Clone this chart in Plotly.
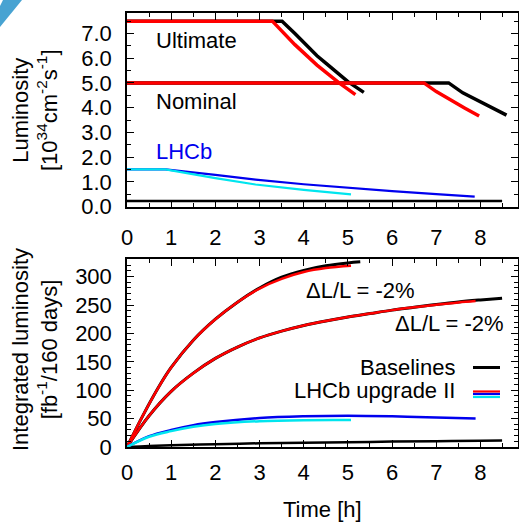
import plotly.graph_objects as go

# ---------------- Top panel: instantaneous luminosity [1e34 cm^-2 s^-1] vs time [h]
ult_base_t = [0, 3.51, 3.8, 4.0, 4.3, 4.5, 5.0, 5.36]
ult_base_l = [7.5, 7.5, 7.0, 6.62, 6.1, 5.8, 5.05, 4.62]
ult_up2_t = [0, 3.29, 3.8, 4.3, 4.8, 5.17]
ult_up2_l = [7.5, 7.5, 6.55, 5.72, 5.0, 4.53]
nom_base_t = [0, 7.28, 7.6, 7.92, 8.3, 8.59]
nom_base_l = [5.0, 5.0, 4.6, 4.3, 3.97, 3.70]
nom_up2_t = [0, 6.72, 7.0, 7.32, 7.65, 7.97]
nom_up2_l = [5.0, 5.0, 4.65, 4.3, 3.98, 3.66]
lhcb_base_t = [0, 8.49]
lhcb_base_l = [0.22, 0.22]
lhcb_blue_t = [0, 0.87, 2.0, 2.91, 4.0, 5.0, 6.0, 7.0, 7.87]
lhcb_blue_l = [1.5, 1.5, 1.28, 1.09, 0.9, 0.75, 0.62, 0.5, 0.4]
lhcb_cyan_t = [0, 0.87, 2.0, 2.91, 4.0, 5.07]
lhcb_cyan_l = [1.5, 1.5, 1.15, 0.89, 0.67, 0.49]

# ---------------- Bottom panel: integrated luminosity [fb^-1 / 160 days] vs fill length [h]
iu_base_t = [0, 0.35, 0.72, 1.0, 1.5, 2.0, 2.5, 3.0, 3.5, 4.0, 4.5, 5.0, 5.28]
iu_base_l = [0, 54, 106, 140, 188, 225, 255, 280, 299, 311, 319, 324, 326]
iu_up2_t = [0, 0.35, 0.72, 1.0, 1.5, 2.0, 2.5, 3.0, 3.5, 4.0, 4.5, 5.07]
iu_up2_l = [0, 54, 106, 140, 188, 225, 255, 279, 296, 308, 315, 319]
in_base_t = [0, 0.5, 1.0, 1.5, 2.0, 2.5, 3.0, 3.5, 4.0, 4.5, 5.0, 5.5, 6.0, 6.5, 7.0, 7.5, 8.0, 8.49]
in_base_l = [0, 55, 98, 130, 156, 176, 192, 204, 214, 222, 229, 235, 241, 246, 251, 255.5, 259, 262]
in_up2_t = [0, 0.5, 1.0, 1.5, 2.0, 2.5, 3.0, 3.5, 4.0, 4.5, 5.0, 5.5, 6.0, 6.5, 7.0, 7.5, 7.89]
in_up2_l = [0, 55, 98, 130, 156, 176, 192, 204, 214, 222, 229, 235, 241, 246, 250.5, 254.5, 257]
ib_base_t = [0, 0.5, 1, 2, 3, 4, 5, 6, 7, 8, 8.49]
ib_base_l = [0, 1.8, 3, 5, 6.5, 7.5, 8.5, 9.5, 10.3, 11, 11.5]
ib_blue_t = [0, 0.5, 1, 1.5, 2, 3, 4, 5, 6, 7, 7.89]
ib_blue_l = [0, 19, 30, 38.5, 44, 51, 54, 55, 54, 52, 50]
ib_cyan_t = [0, 0.5, 1, 1.5, 2, 3, 4, 5.07]
ib_cyan_l = [0, 18, 28, 35.5, 40.5, 45.5, 47.3, 47.5]

x_ticks = [0, 1, 2, 3, 4, 5, 6, 7, 8]
top_ticks = [0, 1, 2, 3, 4, 5, 6, 7]
bot_ticks = [0, 50, 100, 150, 200, 250, 300]

BLACK, RED, BLUE, CYAN = "#000000", "#ff0000", "#0000ee", "#00e5ee"
FONT = "Liberation Sans, Arial, Helvetica, sans-serif"

fig = go.Figure()

def add(t, l, color, width, ax, shape="linear"):
    fig.add_trace(go.Scatter(x=t, y=l, mode="lines", xaxis="x" if ax == 1 else "x2",
                             yaxis="y" if ax == 1 else "y2",
                             line=dict(color=color, width=width, shape=shape),
                             showlegend=False, hoverinfo="skip"))

# top
add(lhcb_base_t, lhcb_base_l, BLACK, 2.5, 1)
add(ult_base_t, ult_base_l, BLACK, 3.5, 1)
add(nom_base_t, nom_base_l, BLACK, 3.5, 1)
add(ult_up2_t, ult_up2_l, RED, 3.5, 1)
add(nom_up2_t, nom_up2_l, RED, 3.5, 1)
add(lhcb_blue_t, lhcb_blue_l, BLUE, 2.2, 1)
add(lhcb_cyan_t, lhcb_cyan_l, CYAN, 2.2, 1)
# bottom
add(ib_base_t, ib_base_l, BLACK, 2.5, 2, "spline")
add(iu_base_t, iu_base_l, BLACK, 3, 2, "spline")
add(in_base_t, in_base_l, BLACK, 3, 2, "spline")
add(iu_up2_t, iu_up2_l, RED, 2.5, 2, "spline")
add(in_up2_t, in_up2_l, RED, 2.5, 2, "spline")
add(ib_blue_t, ib_blue_l, BLUE, 2.5, 2, "spline")
add(ib_cyan_t, ib_cyan_l, CYAN, 2.5, 2, "spline")

axis_common = dict(showline=True, linecolor="black", linewidth=1.5, mirror="ticks",
                   ticks="inside", ticklen=7, tickwidth=1, tickcolor="black",
                   showgrid=False, zeroline=False, automargin=False,
                   tickfont=dict(family=FONT, size=22, color="black"))

fig.update_layout(
    width=519, height=524,
    margin=dict(l=127, r=1, t=13, b=77, autoexpand=False),
    paper_bgcolor="white", plot_bgcolor="white",
    font=dict(family=FONT, size=22, color="black"),
    xaxis=dict(domain=[0, 1], anchor="y", range=[0, 8.85], tickvals=x_ticks,
               minor=dict(dtick=0.5, ticks="inside", ticklen=4, tickcolor="black"),
               ticklabelstandoff=10, **axis_common),
    yaxis=dict(domain=[0.5541, 1], anchor="x", range=[0, 7.83], tickvals=top_ticks,
               tickformat=".1f",
               minor=dict(dtick=0.5, ticks="inside", ticklen=4, tickcolor="black"),
               ticklabelstandoff=9, **axis_common),
    xaxis2=dict(domain=[0, 1], anchor="y2", range=[0, 8.85], tickvals=x_ticks,
                minor=dict(dtick=0.5, ticks="inside", ticklen=4, tickcolor="black"),
                ticklabelstandoff=5, **axis_common),
    yaxis2=dict(domain=[0, 0.4325], anchor="x2", range=[0, 330.5], tickvals=bot_ticks,
                minor=dict(dtick=10, ticks="inside", ticklen=4, tickcolor="black"),
                ticklabelstandoff=9, **axis_common),
)

def px_x(X):
    return (X - 127) / 391.0

def px_y(Y):
    return (447 - Y) / 434.0

annos = [
    dict(text="Ultimate", x=0.6, y=6.73, xref="x", yref="y", xanchor="left", yanchor="middle"),
    dict(text="Nominal", x=0.6, y=4.26, xref="x", yref="y", xanchor="left", yanchor="middle"),
    dict(text="LHCb", x=0.6, y=2.24, xref="x", yref="y", xanchor="left", yanchor="middle",
         font=dict(color=BLUE)),
    dict(text="ΔL/L = -2%", x=4.0, y=276, xref="x2", yref="y2", xanchor="left", yanchor="middle"),
    dict(text="ΔL/L = -2%", x=6.01, y=218, xref="x2", yref="y2", xanchor="left", yanchor="middle"),
    dict(text="Baselines", x=px_x(457), y=px_y(367), xref="paper", yref="paper",
         xanchor="right", yanchor="middle"),
    dict(text="LHCb upgrade II", x=px_x(457), y=px_y(390), xref="paper", yref="paper",
         xanchor="right", yanchor="middle"),
    dict(text="Time [h]", x=0.5, y=px_y(509), xref="paper", yref="paper",
         xanchor="center", yanchor="middle"),
    dict(text="Luminosity<br>[10<sup>34</sup>cm<sup>-2</sup>s<sup>-1</sup>]",
         x=px_x(35), y=px_y(110), xref="paper", yref="paper", textangle=-90,
         xanchor="center", yanchor="middle"),
    dict(text="Integrated luminosity<br>[fb<sup>-1</sup>/160 days]",
         x=px_x(35), y=px_y(350), xref="paper", yref="paper", textangle=-90,
         xanchor="center", yanchor="middle"),
]
for a in annos:
    a.setdefault("showarrow", False)
    f = dict(family=FONT, size=22, color="black")
    f.update(a.get("font", {}))
    a["font"] = f
    fig.add_annotation(**a)

# legend line samples
leg = [(367.5, BLACK, 3), (391.5, RED, 2.2), (394, BLUE, 2.2), (397, CYAN, 2.2)]
for Y, c, w in leg:
    fig.add_shape(type="line", xref="paper", yref="paper", x0=px_x(473), x1=px_x(500),
                  y0=px_y(Y), y1=px_y(Y), line=dict(color=c, width=w))

# corner decoration
fig.add_shape(type="path", xref="paper", yref="paper", layer="below",
              path=f"M {px_x(3)} {px_y(0)} L {px_x(22)} {px_y(0)} L {px_x(0)} {px_y(27)} L {px_x(0)} {px_y(6)} Z",
              fillcolor="#48a3d2", line=dict(width=0))

fig.write_html("out.html", config={"displayModeBar": False},
               post_script="document.body.style.margin='0';document.body.style.padding='0';")
